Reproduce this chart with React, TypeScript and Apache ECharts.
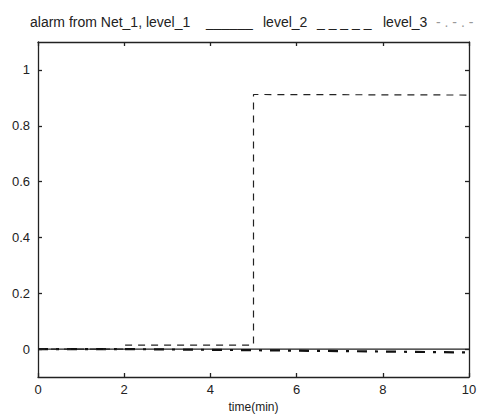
import React, { useEffect, useRef } from "react";
import * as echarts from "echarts";

const level1: [number, number][] = [[0, 0], [10, 0]];
const level2: [number, number][] = [[0, 0], [2, 0], [2, 0.014], [5, 0.014], [5, 0.912], [10, 0.91]];
const level3: [number, number][] = [[0, 0], [2, 0], [2, -0.002], [5, -0.004], [5, -0.006], [10, -0.012]];
const yTicks = [0, 0.2, 0.4, 0.6, 0.8, 1];
const titleParts = [
  { text: "alarm from Net_1, level_1", x: 30 },
  { text: "______", x: 206 },
  { text: "level_2", x: 263 },
  { text: "_ _ _ _ _", x: 317 },
  { text: "level_3", x: 383 },
  { text: "- . - . -", x: 436, faint: true },
];

export default function App() {
  const ref = useRef<HTMLDivElement>(null);
  useEffect(() => {
    const chart = echarts.init(ref.current!, null, { renderer: "svg" });
    const font = "'Liberation Sans', Arial, sans-serif";
    const lineStyle = { color: "#222", width: 1.3 };
    chart.setOption({
      animation: false,
      backgroundColor: "#fff",
      graphic: titleParts.map((p) => ({
        type: "text",
        x: p.x,
        y: 22,
        style: {
          text: p.text,
          fontSize: 14,
          fontFamily: font,
          fill: p.faint ? "#999" : "#222",
          verticalAlign: "middle",
        },
      })),
      grid: { left: 38, right: 12, top: 42, bottom: 38 },
      xAxis: [
        {
          type: "value", min: 0, max: 10, interval: 2,
          name: "time(min)", nameLocation: "middle", nameGap: 24,
          nameTextStyle: { fontSize: 12, color: "#222", fontFamily: font },
          axisLine: { onZero: false, lineStyle },
          axisTick: { inside: true, length: 4, lineStyle },
          axisLabel: { fontSize: 13, color: "#222", fontFamily: font, margin: 6 },
          splitLine: { show: false },
        },
        {
          type: "value", min: 0, max: 10, interval: 2, position: "top",
          axisLine: { onZero: false, lineStyle },
          axisTick: { inside: true, length: 4, lineStyle },
          axisLabel: { show: false },
          splitLine: { show: false },
        },
      ],
      yAxis: [
        {
          type: "value", min: -0.1, max: 1.1,
          axisLine: { onZero: false, lineStyle },
          axisTick: { inside: true, length: 4, lineStyle, customValues: yTicks },
          axisLabel: { fontSize: 13, color: "#222", fontFamily: font, margin: 8, customValues: yTicks },
          splitLine: { show: false },
        },
        {
          type: "value", min: -0.1, max: 1.1, position: "right",
          axisLine: { onZero: false, lineStyle },
          axisTick: { inside: true, length: 4, lineStyle, customValues: yTicks },
          axisLabel: { show: false, customValues: yTicks },
          splitLine: { show: false },
        },
      ],
      series: [
        {
          name: "level_1", type: "line", data: level1, showSymbol: false,
          lineStyle: { color: "#222", width: 1.2 },
        },
        {
          name: "level_3", type: "line", data: level3, showSymbol: false,
          lineStyle: { color: "#111", width: 2.2, type: [10, 8, 3, 8] },
        },
        {
          name: "level_2", type: "line", data: level2, showSymbol: false,
          lineStyle: { color: "#222", width: 1.2, type: [7, 6] },
        },
      ],
    });
    return () => chart.dispose();
  }, []);
  return <div ref={ref} style={{ width: 481, height: 418, position: "absolute", left: 0, top: 0 }} />;
}
